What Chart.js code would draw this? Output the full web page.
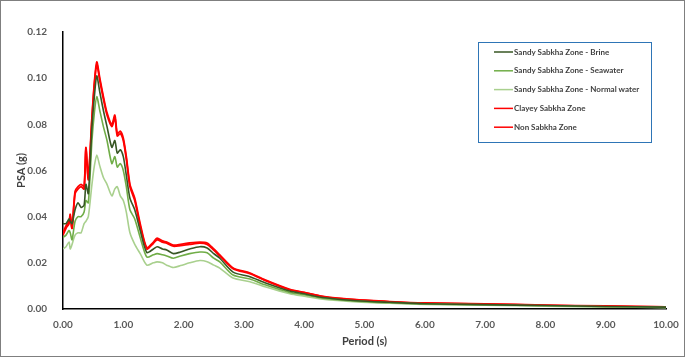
<!DOCTYPE html>
<html>
<head>
<meta charset="utf-8">
<script src="https://cdn.jsdelivr.net/npm/chart.js@4.4.0/dist/chart.umd.min.js"></script>
<style>
  html, body { margin: 0; padding: 0; background: #fff; }
  #wrap { width: 685px; height: 357px; box-sizing: border-box; border: 1px solid #7f7f7f; position: relative; }
  canvas { display: block; }
</style>
</head>
<body>
<div id="wrap"><canvas id="psa" width="683" height="355"></canvas></div>
<script>
// period (s)
const periods = [0, 0.05, 0.1, 0.12, 0.15, 0.2, 0.25, 0.3, 0.35, 0.38, 0.42, 0.48, 0.52, 0.56, 0.61, 0.67, 0.73, 0.81, 0.86, 0.9, 0.95, 1.0, 1.05, 1.11, 1.19, 1.28, 1.39, 1.5, 1.56, 1.65, 1.72, 1.83, 1.95, 2.1, 2.27, 2.39, 2.5, 2.6, 2.82, 3.1, 3.35, 3.76, 4.0, 4.31, 4.87, 5.42, 6.0, 7.0, 8.0, 9.0, 10.0];

const brine = [0.037, 0.037, 0.039, 0.038, 0.037, 0.043, 0.046, 0.044, 0.045, 0.054, 0.050, 0.079, 0.092, 0.101, 0.094, 0.086, 0.079, 0.070, 0.073, 0.0675, 0.069, 0.066, 0.058, 0.048, 0.043, 0.034, 0.0245, 0.026, 0.027, 0.026, 0.0256, 0.024, 0.0247, 0.026, 0.027, 0.0264, 0.024, 0.022, 0.016, 0.014, 0.0114, 0.0078, 0.0066, 0.0050, 0.0036, 0.0029, 0.0023, 0.0019, 0.0015, 0.0011, 0.0008];

const seawater = [0.031, 0.032, 0.034, 0.033, 0.030, 0.038, 0.040, 0.040, 0.042, 0.047, 0.046, 0.073, 0.085, 0.092, 0.086, 0.079, 0.073, 0.063, 0.066, 0.0615, 0.063, 0.060, 0.053, 0.043, 0.039, 0.031, 0.0225, 0.0235, 0.024, 0.0235, 0.023, 0.022, 0.023, 0.024, 0.0247, 0.0244, 0.022, 0.0204, 0.0147, 0.013, 0.0105, 0.0072, 0.0062, 0.0047, 0.0034, 0.0027, 0.0022, 0.0018, 0.0014, 0.0010, 0.0007];

const normalWater = [0.026, 0.027, 0.029, 0.026, 0.028, 0.032, 0.033, 0.033, 0.037, 0.038, 0.040, 0.054, 0.062, 0.0667, 0.062, 0.057, 0.054, 0.049, 0.052, 0.053, 0.049, 0.047, 0.042, 0.033, 0.028, 0.024, 0.019, 0.020, 0.0204, 0.020, 0.019, 0.018, 0.0188, 0.020, 0.021, 0.0205, 0.019, 0.0177, 0.0134, 0.0118, 0.0096, 0.0066, 0.0055, 0.0042, 0.0031, 0.0025, 0.0020, 0.0016, 0.0012, 0.0009, 0.0006];

const clayey = [0.033, 0.036, 0.038, 0.041, 0.035, 0.051, 0.053, 0.054, 0.053, 0.070, 0.057, 0.083, 0.098, 0.107, 0.100, 0.092, 0.085, 0.080, 0.084, 0.076, 0.077, 0.074, 0.066, 0.054, 0.048, 0.037, 0.0265, 0.029, 0.0307, 0.0295, 0.029, 0.0277, 0.028, 0.0286, 0.029, 0.0286, 0.026, 0.0234, 0.0178, 0.0156, 0.0126, 0.0085, 0.0072, 0.0055, 0.0040, 0.0032, 0.0026, 0.0022, 0.0017, 0.0013, 0.0009];

const nonSabkha = [0.032, 0.035, 0.037, 0.040, 0.035, 0.050, 0.052, 0.053, 0.052, 0.069, 0.056, 0.082, 0.097, 0.106, 0.099, 0.091, 0.084, 0.079, 0.083, 0.075, 0.076, 0.073, 0.065, 0.053, 0.047, 0.036, 0.026, 0.0285, 0.030, 0.029, 0.0285, 0.0272, 0.0275, 0.028, 0.0285, 0.028, 0.0255, 0.023, 0.0175, 0.0153, 0.0124, 0.0083, 0.0071, 0.0054, 0.0039, 0.0031, 0.0025, 0.0021, 0.0016, 0.0012, 0.0009];

const seriesLabels = ['Sandy Sabkha Zone - Brine', 'Sandy Sabkha Zone - Seawater', 'Sandy Sabkha Zone - Normal water', 'Clayey Sabkha Zone', 'Non Sabkha Zone'];
const seriesData = [brine, seawater, normalWater, clayey, nonSabkha];
const seriesColors = ['#375623', '#70AD47', '#A9D08E', '#FF0000', '#FF0000'];

const xTicks = [0, 1, 2, 3, 4, 5, 6, 7, 8, 9, 10];
const yTicks = [0, 0.02, 0.04, 0.06, 0.08, 0.10, 0.12];

const textColor = '#595959';
const font = "Lato, 'Open Sans', sans-serif";

// legend box drawn inside the plot, top right
const boxLegend = {
    id: 'boxLegend',
    afterDraw(chart) {
        const ctx = chart.ctx;
        const x0 = 477, y0 = 41, w = 173, h = 100;
        ctx.save();
        ctx.fillStyle = '#fff';
        ctx.fillRect(x0, y0, w, h);
        ctx.strokeStyle = '#2E75B6';
        ctx.lineWidth = 1;
        ctx.strokeRect(x0 + 0.5, y0 + 0.5, w, h);
        ctx.font = 'bold 8px ' + font;
        ctx.textBaseline = 'middle';
        chart.data.datasets.forEach((ds, i) => {
            const y = y0 + 10 + i * 18.8;
            ctx.strokeStyle = ds.borderColor;
            ctx.lineWidth = 1.5;
            ctx.beginPath();
            ctx.moveTo(x0 + 16, y);
            ctx.lineTo(x0 + 35, y);
            ctx.stroke();
            ctx.fillStyle = '#404040';
            ctx.fillText(ds.label, x0 + 36, y);
        });
        ctx.restore();
    }
};

new Chart(document.getElementById('psa').getContext('2d'), {
    type: 'line',
    data: {
        datasets: seriesLabels.map((label, i) => ({
            label: label,
            data: periods.map((p, j) => ({ x: p, y: seriesData[i][j] })),
            borderColor: seriesColors[i],
            borderWidth: i >= 3 ? 1.8 : 1.6,
            pointRadius: 0,
            tension: 0.25,
            fill: false,
        })),
    },
    options: {
        responsive: false,
        animation: false,
        layout: { padding: { left: 0, right: 18, top: 31, bottom: 8 } },
        plugins: {
            legend: { display: false },
            tooltip: { enabled: false },
        },
        scales: {
            x: {
                type: 'linear',
                min: 0,
                max: 10,
                afterBuildTicks: (s) => { s.ticks = xTicks.map(v => ({ value: v })); },
                afterFit: (s) => { s.height = 39; },
                grid: { display: false },
                border: { display: true, color: '#000', width: 1.5 },
                ticks: {
                    color: textColor,
                    font: { family: font, size: 10, weight: 'bold' },
                    padding: 2,
                    maxRotation: 0,
                    callback: (v) => v.toFixed(2),
                },
                title: {
                    display: true,
                    text: 'Period (s)',
                    color: '#404040',
                    font: { family: font, size: 11, weight: 'bold' },
                    padding: { top: 4, bottom: 0 },
                },
            },
            y: {
                min: 0,
                max: 0.12,
                afterBuildTicks: (s) => { s.ticks = yTicks.map(v => ({ value: v })); },
                afterFit: (s) => { s.width = 62; },
                grid: { display: false },
                border: { display: true, color: '#000', width: 1.5 },
                ticks: {
                    color: textColor,
                    font: { family: font, size: 10, weight: 'bold' },
                    padding: 8,
                    callback: (v) => v.toFixed(2),
                },
                title: {
                    display: true,
                    text: 'PSA (g)',
                    color: '#404040',
                    font: { family: font, size: 11, weight: 'bold' },
                    padding: { top: 14, bottom: 2 },
                },
            },
        },
    },
    plugins: [boxLegend],
});
</script>
</body>
</html>
